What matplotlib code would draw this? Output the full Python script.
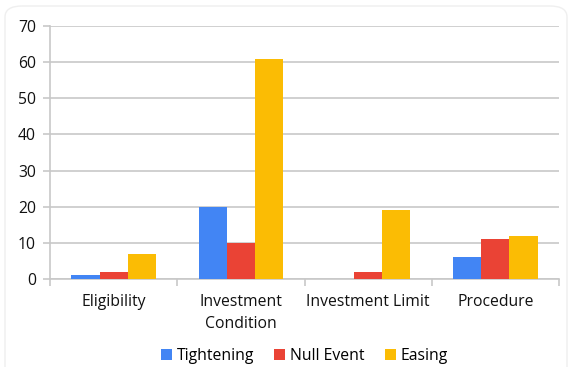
import matplotlib
matplotlib.use("Agg")
import matplotlib.pyplot as plt
import numpy as np
from matplotlib.patches import FancyBboxPatch

categories = ["Eligibility", "Investment\nCondition", "Investment Limit", "Procedure"]
series_names = ["Tightening", "Null Event", "Easing"]
tightening = [1, 20, 0, 6]
null_event = [2, 10, 2, 11]
easing = [7, 61, 19, 12]
colors = ["#4285F4", "#EA4335", "#FBBC04"]
yticks = [0, 10, 20, 30, 40, 50, 60, 70]

plt.rcParams['font.family'] = ['Open Sans', 'DejaVu Sans']

fig = plt.figure(figsize=(5.72, 3.67), dpi=100)
ax = fig.add_axes([50/572, 1-279/367, (559-50)/572, (279-26)/367])

# faint rounded border
border = FancyBboxPatch((5/572, -0.2), 562/572, 1.2 - 6/367,
                        boxstyle="round,pad=0,rounding_size=0.03",
                        transform=fig.transFigure, facecolor='none',
                        edgecolor='#efefef', linewidth=1.0, zorder=0)
fig.patches.append(border)

x = np.arange(len(categories))
w = 0.222
for i, (vals, name) in enumerate(zip([tightening, null_event, easing], series_names)):
    ax.bar(x + (i - 1) * w, vals, width=w, color=colors[i], label=name, zorder=3)

fs = 11.3
ax.set_xlim(-0.5, len(categories) - 0.5)
ax.set_ylim(0, 70)
ax.set_yticks(yticks)
ax.set_yticklabels([str(v) for v in yticks], fontsize=fs, color='#111111')
ax.yaxis.grid(True, color='#c8c8c8', linewidth=1.2, zorder=0)
ax.tick_params(axis='y', length=5, color='#c8c8c8', width=1.2, pad=5)
ax.set_xticks(x)
ax.set_xticklabels(categories, fontsize=fs, color='#111111', linespacing=1.45)
ax.tick_params(axis='x', length=0, pad=11)
ax.set_xticks(np.arange(-0.5, len(categories), 1.0), minor=True)
ax.tick_params(axis='x', which='minor', length=5, color='#c8c8c8', width=1.2)
for s in ['top', 'right']:
    ax.spines[s].set_visible(False)
for s in ['left', 'bottom']:
    ax.spines[s].set_color('#c8c8c8')
    ax.spines[s].set_linewidth(1.2)

ax.legend(loc='center', bbox_to_anchor=(0.5, -0.305), ncol=3, frameon=False,
          fontsize=fs, handlelength=0.7, handleheight=0.7, handletextpad=0.3,
          columnspacing=1.3)

fig.savefig("out.png", dpi=100, facecolor='white')
